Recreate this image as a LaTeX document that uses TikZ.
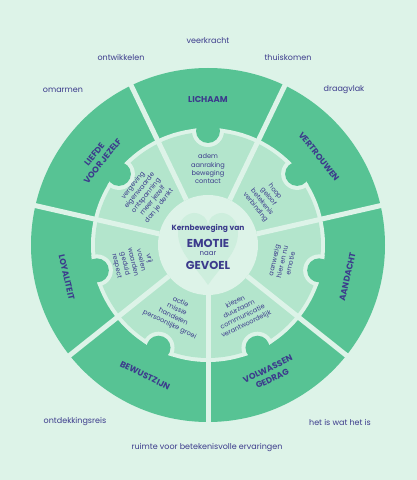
\documentclass[tikz,border=0pt]{standalone}
\usepackage{fontspec}
\setmainfont{Poppins}
\definecolor{bg}{HTML}{DDF3E8}
\definecolor{dgreen}{HTML}{57C394}
\definecolor{lgreen}{HTML}{B3E5CC}
\definecolor{pale}{HTML}{DDF3E8}
\definecolor{heartc}{HTML}{CDEEDD}
\definecolor{ink}{HTML}{3C3B8C}
\begin{document}
\begin{tikzpicture}[x=1pt,y=1pt,
  outerword/.style={text=ink,font=\fontsize{8}{9}\selectfont,inner sep=0},
  seglabel/.style={text=ink,font=\bfseries\fontsize{8.5}{10.5}\selectfont,align=center,inner sep=0},
  innertext/.style={text=ink,font=\fontsize{6.6}{8.3}\selectfont,align=center,inner sep=0},
  centersmall/.style={text=ink,font=\bfseries\fontsize{7.5}{9}\selectfont,inner sep=0},
  centerbig/.style={text=ink,font=\bfseries\fontsize{11.5}{13}\selectfont,inner sep=0},
  divider/.style={draw=pale,line width=5pt}]
\fill[bg] (0,0) rectangle (417,480);
\useasboundingbox (0,0) rectangle (417,480);
\begin{scope}[shift={(208,235)}]
  \fill[dgreen] (0,0) circle (177);
  \fill[pale] (0,0) circle (117);
  \fill[lgreen] (0,0) circle (113);
  \begin{scope}
    \clip (0,0) circle (117);
    \foreach \k in {0,...,6}{
      \pgfmathsetmacro\m{90-\k*360/7}
      \fill[pale] (\m:114) circle (16);
    }
  \end{scope}
  \foreach \k in {0,...,6}{
    \pgfmathsetmacro\m{90-\k*360/7}
    \fill[dgreen] (\m:114) circle (12);
  }
  % centre
  \fill[pale] (0,0) circle (50);
  \fill[heartc] (0,-40) .. controls (-12,-22) and (-30,-8) .. (-30,12)
     .. controls (-30,26) and (-20,32) .. (-14,32)
     .. controls (-6,32) and (0,26) .. (0,20)
     .. controls (0,26) and (6,32) .. (14,32)
     .. controls (20,32) and (30,26) .. (30,12)
     .. controls (30,-8) and (12,-22) .. (0,-40) -- cycle;
  % dividers
  \foreach \k in {0,...,6}{
    \pgfmathsetmacro\d{90-25.714-\k*360/7}
    \coordinate (din\k) at (\d:50);
    \coordinate (dout\k) at (\d:181);
    \draw[divider] (din\k) -- (dout\k);
  }
  % segment labels
  \node[seglabel] (lichaam) at (90:145) {LICHAAM};
  \node[seglabel,rotate=-51.43] (vertrouwen) at (38.57:142) {VERTROUWEN};
  \node[seglabel,rotate=77.14] (aandacht) at (-12.86:143) {AANDACHT};
  \node[seglabel,rotate=25.71] (volwassen) at (-64.29:143) {VOLWASSEN\\GEDRAG};
  \node[seglabel,rotate=-25.71] (bewustzijn) at (-115.71:145) {BEWUSTZIJN};
  \node[seglabel,rotate=-77.14] (loyaliteit) at (-167.14:145) {LOYALITEIT};
  \node[seglabel,rotate=51.43] (liefde) at (141.43:140) {LIEFDE\\VOOR JEZELF};
  % inner texts
  \node[innertext] (in0) at (90:76) {adem\\aanraking\\beweging\\contact};
  \node[innertext,rotate=-51.43] (in1) at (38.57:73) {hoop\\geloof\\betekenis\\verbinding};
  \node[innertext,rotate=77.14] (in2) at (-12.86:76) {aanwezig\\hier en nu\\emotie};
  \node[innertext,rotate=25.71] (in3) at (-64.29:76) {kiezen\\duurzaam\\communicatie\\verantwoordelijk};
  \node[innertext,rotate=-25.71] (in4) at (-115.71:76) {actie\\missie\\handelen\\persoonlijke groei};
  \node[innertext,rotate=-77.14] (in5) at (-167.14:77) {vrij\\voelen\\waarden\\geduld\\respect};
  \node[innertext,rotate=51.43] (in6) at (141.43:79) {vergeving\\eigenwaarde\\ontspanning\\meer jezelf\\dan je denkt};
  % centre text
  \node[centersmall] (kern) at (0,16) {Kernbeweging van};
  \node[centerbig] (emotie) at (0,2) {EMOTIE};
  \node[centersmall,font=\fontsize{7}{8}\selectfont] (naar) at (0,-9) {naar};
  \node[centerbig] (gevoel) at (0,-20) {GEVOEL};
\end{scope}
% outer words
\node[outerword] (w1) at (208,439) {veerkracht};
\node[outerword] (w2) at (121,423) {ontwikkelen};
\node[outerword] (w3) at (288,423) {thuiskomen};
\node[outerword] (w4) at (63,390) {omarmen};
\node[outerword] (w5) at (344,390) {draagvlak};
\node[outerword] (w6) at (75,58) {ontdekkingsreis};
\node[outerword] (w7) at (340,58) {het is wat het is};
\node[outerword] (w8) at (207,32) {ruimte voor betekenisvolle ervaringen};
\end{tikzpicture}
\end{document}
